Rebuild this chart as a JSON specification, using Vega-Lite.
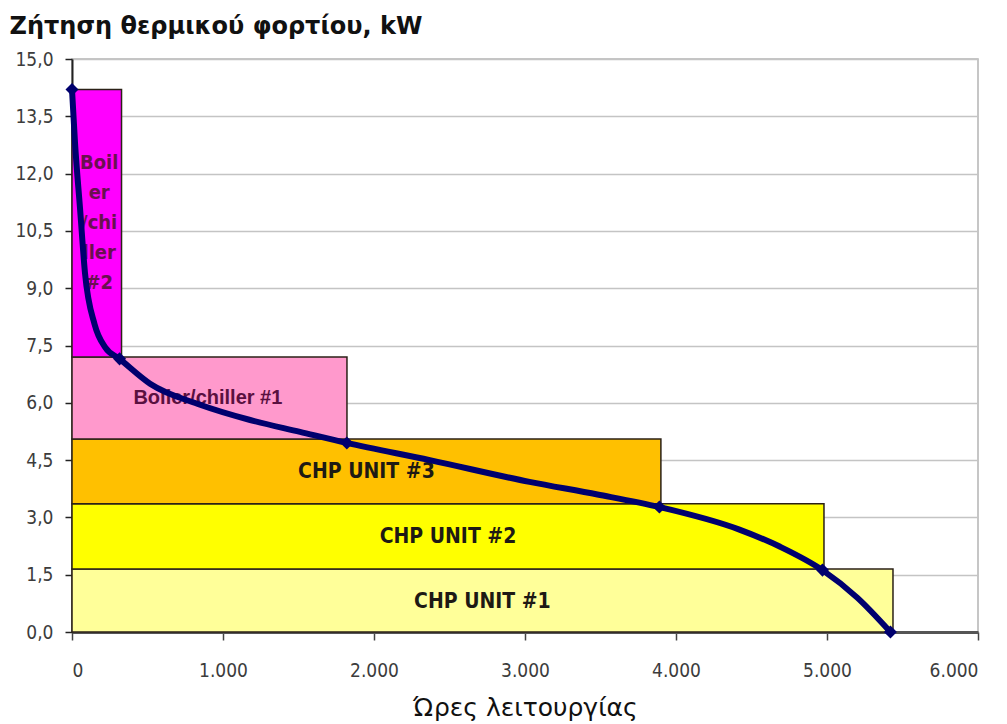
{
  "$schema": "https://vega.github.io/schema/vega-lite/v6.json",
  "width": 906,
  "height": 573,
  "autosize": {"type": "none"},
  "padding": {"left": 72, "top": 59, "right": 29, "bottom": 92},
  "background": "white",
  "config": {
    "view": {"stroke": "#b4b4b4", "strokeWidth": 1.5},
    "axis": {"labelFont": "DejaVu Sans Condensed, DejaVu Sans", "labelFontSize": 19, "labelColor": "#3c3c3c"}
  },
  "datasets": {
    "rects": [
      {"unit": "CHP UNIT #1", "start": 0, "end": 5437, "lo": 0, "hi": 1.65, "lx": 2718, "ly": 0.78, "label": "CHP UNIT #1"},
      {"unit": "CHP UNIT #2", "start": 0, "end": 4980, "lo": 1.65, "hi": 3.36, "lx": 2490, "ly": 2.5, "label": "CHP UNIT #2"},
      {"unit": "CHP UNIT #3", "start": 0, "end": 3900, "lo": 3.36, "hi": 5.05, "lx": 1950, "ly": 4.18, "label": "CHP UNIT #3"},
      {"unit": "Boiler/chiller #1", "start": 0, "end": 1821, "lo": 5.05, "hi": 7.2, "lx": 900, "ly": 6.12, "label": "Boiler/chiller #1"},
      {"unit": "Boiler/chiller #2", "start": 0, "end": 328, "lo": 7.2, "hi": 14.2, "lx": 180, "ly": 10.7, "label": "Boil\ner\n/chi\nller\n#2"}
    ],
    "curve": [
      {"h": 0, "kw": 14.2},
      {"h": 20, "kw": 12.8},
      {"h": 53, "kw": 11.1},
      {"h": 86, "kw": 9.4},
      {"h": 150, "kw": 8.05},
      {"h": 220, "kw": 7.45},
      {"h": 315, "kw": 7.15},
      {"h": 517, "kw": 6.5},
      {"h": 848, "kw": 5.95},
      {"h": 1180, "kw": 5.55},
      {"h": 1510, "kw": 5.24},
      {"h": 1820, "kw": 4.95},
      {"h": 2370, "kw": 4.5},
      {"h": 3030, "kw": 3.93},
      {"h": 3480, "kw": 3.6},
      {"h": 3890, "kw": 3.27},
      {"h": 4420, "kw": 2.68},
      {"h": 4690, "kw": 2.23},
      {"h": 4970, "kw": 1.62},
      {"h": 5200, "kw": 0.9},
      {"h": 5420, "kw": 0}
    ],
    "markers": [
      {"h": 0, "kw": 14.2},
      {"h": 315, "kw": 7.15},
      {"h": 1820, "kw": 4.95},
      {"h": 3890, "kw": 3.27},
      {"h": 4970, "kw": 1.62},
      {"h": 5420, "kw": 0}
    ]
  },
  "encoding": {
    "x": {
      "type": "quantitative",
      "scale": {"domain": [0, 6000], "nice": false, "zero": false},
      "axis": {
        "title": "Ώρες λειτουργίας",
        "titleFont": "DejaVu Sans",
        "titleFontSize": 25,
        "titleFontWeight": "normal",
        "titleColor": "#111111",
        "titleBaseline": "middle",
        "titleY": 75,
        "values": [0, 1000, 2000, 3000, 4000, 5000, 6000],
        "labelExpr": "replace(format(datum.value, ','), ',', '.')",
        "labelPadding": 21,
        "grid": false,
        "domainColor": "#555555",
        "domainWidth": 3,
        "tickColor": "#444444",
        "tickWidth": 1.5,
        "tickSize": 8
      }
    },
    "y": {
      "type": "quantitative",
      "scale": {"domain": [0, 15], "nice": false, "zero": false},
      "axis": {
        "title": "Ζήτηση θερμικού φορτίου, kW",
        "titleFont": "DejaVu Sans",
        "titleFontSize": 24,
        "titleFontWeight": "bold",
        "titleColor": "#111111",
        "titleAngle": 0,
        "titleAlign": "left",
        "titleBaseline": "alphabetic",
        "titleX": -63,
        "titleY": -26,
        "values": [0, 1.5, 3, 4.5, 6, 7.5, 9, 10.5, 12, 13.5, 15],
        "labelExpr": "replace(format(datum.value, '.1f'), '.', ',')",
        "labelPadding": 12,
        "grid": true,
        "gridColor": "#c4c4c4",
        "gridWidth": 1.5,
        "domainColor": "#222222",
        "domainWidth": 2,
        "tickColor": "#222222",
        "tickWidth": 1.5,
        "tickSize": 7
      }
    }
  },
  "layer": [
    {
      "data": {"name": "rects"},
      "mark": {"type": "rect", "stroke": "#2b2117", "strokeWidth": 1.5},
      "encoding": {
        "x": {"field": "start", "type": "quantitative"},
        "x2": {"field": "end"},
        "y": {"field": "lo", "type": "quantitative"},
        "y2": {"field": "hi"},
        "color": {
          "field": "unit",
          "type": "nominal",
          "scale": {
            "domain": ["CHP UNIT #1", "CHP UNIT #2", "CHP UNIT #3", "Boiler/chiller #1", "Boiler/chiller #2"],
            "range": ["#FFFF99", "#FFFF00", "#FFC000", "#FF99CC", "#FF00FF"]
          },
          "legend": null
        }
      }
    },
    {
      "data": {"name": "rects"},
      "transform": [{"filter": "indexof(datum.unit, 'CHP') >= 0"}],
      "mark": {"type": "text", "font": "DejaVu Sans Condensed, DejaVu Sans", "fontWeight": "bold", "fontSize": 21, "color": "#1e1a14", "align": "center", "baseline": "middle"},
      "encoding": {
        "x": {"field": "lx", "type": "quantitative"},
        "y": {"field": "ly", "type": "quantitative"},
        "text": {"field": "label"}
      }
    },
    {
      "data": {"name": "rects"},
      "transform": [{"filter": "indexof(datum.unit, 'Boiler/chiller #1') >= 0"}],
      "mark": {"type": "text", "font": "Liberation Sans", "fontWeight": "bold", "fontSize": 20, "color": "#5a1040", "align": "center", "baseline": "middle"},
      "encoding": {
        "x": {"field": "lx", "type": "quantitative"},
        "y": {"field": "ly", "type": "quantitative"},
        "text": {"field": "label"}
      }
    },
    {
      "data": {"name": "rects"},
      "transform": [{"filter": "indexof(datum.unit, 'Boiler/chiller #2') >= 0"}],
      "mark": {"type": "text", "font": "DejaVu Sans Condensed, DejaVu Sans", "fontWeight": "bold", "fontSize": 20, "color": "#6a1050", "align": "center", "baseline": "middle", "lineBreak": "\n", "lineHeight": 30, "dy": -60},
      "encoding": {
        "x": {"field": "lx", "type": "quantitative"},
        "y": {"field": "ly", "type": "quantitative"},
        "text": {"field": "label"}
      }
    },
    {
      "data": {"name": "curve"},
      "mark": {"type": "line", "interpolate": "monotone", "color": "#00006e", "strokeWidth": 6, "strokeCap": "round"},
      "encoding": {
        "x": {"field": "h", "type": "quantitative"},
        "y": {"field": "kw", "type": "quantitative"}
      }
    },
    {
      "data": {"name": "markers"},
      "mark": {"type": "point", "shape": "diamond", "filled": true, "size": 170, "color": "#00006e", "opacity": 1},
      "encoding": {
        "x": {"field": "h", "type": "quantitative"},
        "y": {"field": "kw", "type": "quantitative"}
      }
    }
  ]
}
